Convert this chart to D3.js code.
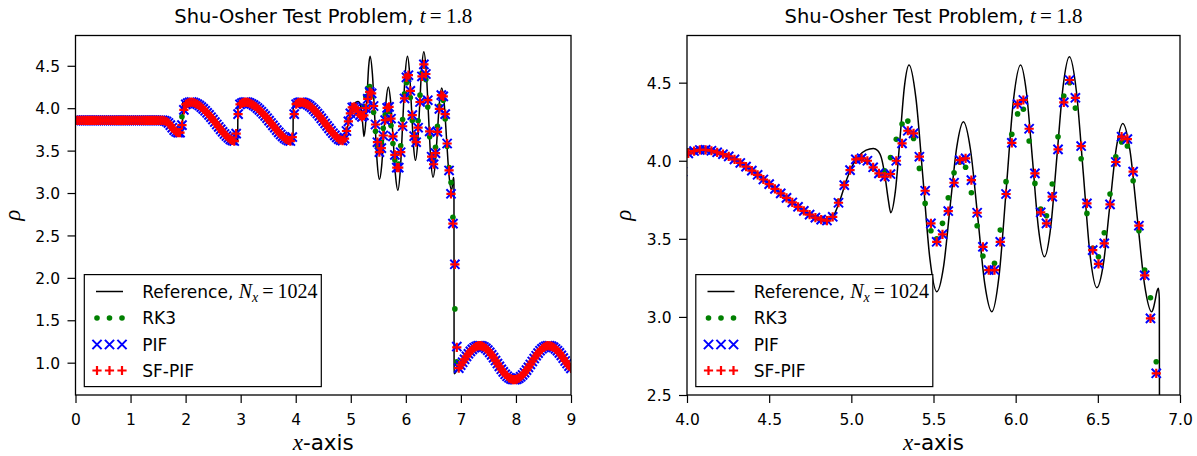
<!DOCTYPE html>
<html><head><meta charset="utf-8">
<script src="https://cdn.jsdelivr.net/npm/d3@7"></script>
<style>
body{margin:0;background:#fff}
svg{display:block}
text{font-family:"DejaVu Sans",sans-serif;fill:#000}
.math{font-family:"Liberation Serif","DejaVu Serif",serif}
</style>
</head><body><svg id="c" width="1197" height="456"></svg>
<script>
// ---------------- data ----------------
const gridCells = 256;          // mesh: x_i = i * 9/256, i = 0..256
const gridLength = 9;

const pifRho = [
3.857,3.857,3.857,3.857,3.857,3.857,3.857,3.857,3.857,3.857,
3.857,3.857,3.857,3.857,3.857,3.857,3.857,3.857,3.857,3.857,
3.857,3.857,3.857,3.857,3.857,3.857,3.857,3.857,3.857,3.857,
3.857,3.857,3.857,3.857,3.857,3.857,3.857,3.857,3.857,3.857,
3.857,3.857,3.857,3.857,
3.857,3.856,3.852,3.843,3.826,3.800,3.770,3.742,3.722,3.711,3.712,3.800,3.980,
4.045,4.060,4.068,4.071,4.067,4.058,4.046,4.031,4.013,3.992,3.970,3.946,3.921,3.894,3.866,3.837,3.808,3.779,3.750,3.722,3.696,3.672,3.651,3.633,3.620,3.613,
3.700,3.930,
4.045,4.060,4.068,4.071,4.068,4.060,4.049,4.036,4.020,4.001,3.980,3.958,3.934,3.909,3.882,3.854,3.826,3.798,3.770,3.742,3.715,3.690,3.667,3.647,3.631,3.619,3.613,
3.660,3.930,
4.047,4.062,4.069,4.070,4.064,4.054,4.042,4.028,4.009,3.986,3.962,3.937,3.910,3.880,3.850,3.820,3.791,3.762,3.733,3.705,3.679,3.655,3.636,3.623,3.617,
3.641,3.731,3.844,3.940,4.009,4.015,4.000,3.958,3.919,3.898,3.915,4.000,4.111,4.192,4.175,4.026,3.808,3.599,3.481,3.529,
3.678,3.859,4.004,4.015,3.876,3.667,3.449,3.300,3.300,3.481,3.787,4.115,4.363,4.389,4.205,3.919,3.670,3.599,3.770,4.073,
4.374,4.517,4.403,4.094,3.727,3.428,3.339,3.471,3.721,3.992,4.154,4.139,3.930,3.584,3.266,2.991,2.639,
2.160,1.190,0.936,0.970,1.005,1.040,1.074,1.105,1.133,1.157,1.176,1.190,1.198,1.200,1.195,1.185,1.169,1.148,1.122,1.092,
1.059,1.025,0.990,0.956,0.922,0.891,0.863,0.840,0.822,0.808,0.801,0.800,0.806,0.817,0.834,0.855,0.882,0.912,0.945,0.979,
1.014,1.049,1.082,1.112,1.141,1.164,1.181,1.194,1.200,1.199,1.193,1.180,1.162,1.141,1.115,1.086,1.054,1.020,0.990,0.960,0.932
];

const sfpifRho = [
3.857,3.857,3.857,3.857,3.857,3.857,3.857,3.857,3.857,3.857,
3.857,3.857,3.857,3.857,3.857,3.857,3.857,3.857,3.857,3.857,
3.857,3.857,3.857,3.857,3.857,3.857,3.857,3.857,3.857,3.857,
3.857,3.857,3.857,3.857,3.857,3.857,3.857,3.857,3.857,3.857,
3.857,3.857,3.857,3.857,
3.857,3.856,3.852,3.843,3.826,3.800,3.770,3.742,3.722,3.711,3.712,3.800,3.980,
4.045,4.060,4.068,4.071,4.067,4.058,4.046,4.031,4.013,3.992,3.970,3.946,3.921,3.894,3.866,3.837,3.808,3.779,3.750,3.722,3.696,3.672,3.651,3.633,3.620,3.613,
3.700,3.930,
4.045,4.060,4.068,4.071,4.068,4.060,4.049,4.036,4.020,4.001,3.980,3.958,3.934,3.909,3.882,3.854,3.826,3.798,3.770,3.742,3.715,3.690,3.667,3.647,3.631,3.619,3.613,
3.660,3.930,
4.047,4.062,4.069,4.070,4.064,4.054,4.042,4.028,4.009,3.986,3.962,3.937,3.910,3.880,3.850,3.820,3.791,3.762,3.733,3.705,3.679,3.655,3.636,3.623,3.617,
3.641,3.731,3.844,3.940,4.009,4.015,4.000,3.958,3.919,3.898,3.915,4.000,4.111,4.192,4.175,4.026,3.808,3.599,3.481,3.529,
3.678,3.859,4.004,4.015,3.876,3.667,3.449,3.300,3.300,3.481,3.787,4.115,4.363,4.389,4.205,3.919,3.670,3.599,3.770,4.073,
4.374,4.517,4.403,4.094,3.727,3.428,3.339,3.471,3.721,3.992,4.154,4.139,3.930,3.584,3.266,2.991,2.639,
2.160,1.180,0.936,0.970,1.005,1.040,1.074,1.105,1.133,1.157,1.176,1.190,1.198,1.200,1.195,1.185,1.169,1.148,1.122,1.092,
1.059,1.025,0.990,0.956,0.922,0.891,0.863,0.840,0.822,0.808,0.801,0.800,0.806,0.817,0.834,0.855,0.882,0.912,0.945,0.979,
1.014,1.049,1.082,1.112,1.141,1.164,1.181,1.194,1.200,1.199,1.193,1.180,1.162,1.141,1.115,1.086,1.054,1.020,0.990,0.960,0.932
];

const rk3Rho = [
3.857,3.857,3.857,3.857,3.857,3.857,3.857,3.857,3.857,3.857,
3.857,3.857,3.857,3.857,3.857,3.857,3.857,3.857,3.857,3.857,
3.857,3.857,3.857,3.857,3.857,3.857,3.857,3.857,3.857,3.857,
3.857,3.857,3.857,3.857,3.857,3.857,3.857,3.857,3.857,3.857,
3.857,3.857,3.857,3.857,
3.857,3.856,3.852,3.843,3.826,3.800,3.770,3.742,3.722,3.711,3.712,3.900,3.990,
4.045,4.060,4.068,4.071,4.067,4.058,4.046,4.031,4.013,3.992,3.970,3.946,3.921,3.894,3.866,3.837,3.808,3.779,3.750,3.722,3.696,3.672,3.651,3.633,3.620,3.613,
3.700,3.930,
4.045,4.060,4.068,4.071,4.068,4.060,4.049,4.036,4.020,4.001,3.980,3.958,3.934,3.909,3.882,3.854,3.826,3.798,3.770,3.742,3.715,3.690,3.667,3.647,3.631,3.619,3.613,
3.660,3.930,
4.047,4.062,4.069,4.070,4.064,4.054,4.042,4.028,4.009,3.986,3.962,3.937,3.910,3.880,3.850,3.820,3.791,3.762,3.733,3.705,3.679,3.655,3.636,3.623,3.617,
3.645,3.740,3.850,3.945,4.010,4.015,3.995,3.950,3.915,3.935,4.020,4.137,4.235,4.254,4.143,3.951,3.727,3.552,3.500,3.599,
3.763,3.923,3.990,3.958,3.795,3.584,3.390,3.300,3.343,3.556,3.866,4.169,4.300,4.330,4.126,3.855,3.690,3.648,3.851,4.154,
4.414,4.500,4.337,4.013,3.663,3.440,3.385,3.539,3.787,4.026,4.120,4.094,3.872,3.552,3.300,3.123,2.713,
1.634,1.010,0.936,0.970,1.005,1.040,1.074,1.105,1.133,1.157,1.176,1.190,1.198,1.200,1.195,1.185,1.169,1.148,1.122,1.092,
1.059,1.025,0.990,0.956,0.922,0.891,0.863,0.840,0.822,0.808,0.801,0.800,0.806,0.817,0.834,0.855,0.882,0.912,0.945,0.979,
1.014,1.049,1.082,1.112,1.141,1.164,1.181,1.194,1.200,1.199,1.193,1.180,1.162,1.141,1.115,1.086,1.054,1.020,0.990,0.960,0.932
];

// Reference solution (N_x = 1024)
const refX = [
0.000,1.550,1.620,1.700,1.780,1.850,1.900,1.944,
1.948,2.000,2.080,2.200,2.300,2.400,2.500,2.600,2.700,2.800,2.880,2.946,
2.950,3.000,3.080,3.200,3.300,3.400,3.500,3.600,3.700,3.800,3.880,3.951,
3.955,4.000,4.080,4.200,4.300,4.400,4.500,4.600,4.700,4.780,4.852,
4.890,4.930,4.970,5.010,5.050,5.090,5.134,5.160,5.185,5.205,5.225,5.240,
5.268,5.296,5.323,5.351,5.393,5.436,5.478,5.520,5.561,5.601,5.642,5.682,
5.725,5.769,5.812,5.855,5.899,5.943,5.986,6.030,6.066,6.103,6.139,6.175,
6.213,6.251,6.289,6.327,6.369,6.411,6.452,6.494,6.534,6.573,6.613,6.652,
6.696,6.740,6.784,6.828,6.838,6.849,6.859,6.869,6.874,6.877,
6.950,7.050,7.150,7.250,7.340,7.450,7.550,7.650,7.750,7.850,7.970,
8.100,8.200,8.300,8.400,8.500,8.600,8.700,8.800,8.900,9.000
];
const refRho = [
3.857,3.857,3.853,3.835,3.780,3.722,3.706,3.705,
4.065,4.078,4.076,4.055,4.020,3.965,3.895,3.820,3.740,3.665,3.622,3.607,
4.065,4.078,4.076,4.055,4.020,3.965,3.895,3.820,3.740,3.665,3.622,3.607,
4.065,4.076,4.076,4.056,4.012,3.943,3.858,3.770,3.690,3.640,3.615,
3.645,3.745,3.875,3.975,4.035,4.068,4.079,4.065,4.010,3.900,3.750,3.667,
3.805,4.140,4.475,4.613,4.401,3.887,3.373,3.161,3.320,3.706,4.091,4.250,
4.072,3.642,3.211,3.033,3.264,3.823,4.382,4.613,4.434,3.999,3.564,3.385,
3.572,4.026,4.479,4.666,4.450,3.927,3.403,3.187,3.341,3.713,4.085,4.239,
4.063,3.636,3.209,3.033,3.055,3.108,3.161,3.183,3.120,0.870,
0.925,1.024,1.120,1.180,1.200,1.170,1.100,1.005,0.910,0.835,0.800,
0.835,0.910,1.005,1.100,1.170,1.200,1.170,1.100,1.010,0.930
];

const leftXTicks = [0,1,2,3,4,5,6,7,8,9];
const leftYTicks = [1.0,1.5,2.0,2.5,3.0,3.5,4.0,4.5];
const rightXTicks = [4.0,4.5,5.0,5.5,6.0,6.5,7.0];
const rightYTicks = [2.5,3.0,3.5,4.0,4.5];
const seriesNames = ["RK3","PIF","SF-PIF"];
const titleText = "Shu-Osher Test Problem, ";

// ---------------- drawing ----------------
const svg = d3.select("#c");
const xs = d3.range(gridCells + 1).map(i => i * gridLength / gridCells);
const refPts = refX.map((x, i) => [x, refRho[i]]);

const panels = [
  {id:"L", x0:75.5, x1:571, y0:35.5, y1:395, xDomain:[0,9], yDomain:[0.619,4.857],
   xTicks:leftXTicks, yTicks:leftYTicks, xFmt:d3.format("d"), yFmt:d3.format(".1f"), ylabX:15},
  {id:"R", x0:687, x1:1180, y0:35.5, y1:395, xDomain:[4,7], yDomain:[2.5,4.802],
   xTicks:rightXTicks, yTicks:rightYTicks, xFmt:d3.format(".1f"), yFmt:d3.format(".1f"), ylabX:626}
];

const MS = 4.6; // marker half size
const plusPath = `M${-MS},0H${MS}M0,${-MS}V${MS}`;
const timesPath = `M${-MS},${-MS}L${MS},${MS}M${-MS},${MS}L${MS},${-MS}`;

panels.forEach(p => {
  const x = d3.scaleLinear().domain(p.xDomain).range([p.x0, p.x1]);
  const y = d3.scaleLinear().domain(p.yDomain).range([p.y1, p.y0]);
  const g = svg.append("g");

  g.append("clipPath").attr("id", "clip" + p.id)
    .append("rect").attr("x", p.x0).attr("y", p.y0)
    .attr("width", p.x1 - p.x0).attr("height", p.y1 - p.y0);

  const plot = g.append("g").attr("clip-path", `url(#clip${p.id})`);

  const line = d3.line().x(d => x(d[0])).y(d => y(d[1])).curve(d3.curveMonotoneX);
  plot.append("path").datum(refPts).attr("d", line)
    .attr("fill", "none").attr("stroke", "#000").attr("stroke-width", 1.5);

  const inView = i => xs[i] >= p.xDomain[0] - 0.05 && xs[i] <= p.xDomain[1] + 0.05;

  plot.append("g").selectAll("circle")
    .data(rk3Rho.map((v, i) => [xs[i], v, i]).filter(d => inView(d[2])))
    .join("circle").attr("cx", d => x(d[0])).attr("cy", d => y(d[1]))
    .attr("r", 2.8).attr("fill", "#008000");

  plot.append("g").selectAll("path")
    .data(pifRho.map((v, i) => [xs[i], v, i]).filter(d => inView(d[2])))
    .join("path").attr("d", timesPath)
    .attr("transform", d => `translate(${x(d[0])},${y(d[1])})`)
    .attr("stroke", "#0000ff").attr("stroke-width", 2).attr("fill", "none");

  plot.append("g").selectAll("path")
    .data(sfpifRho.map((v, i) => [xs[i], v, i]).filter(d => inView(d[2])))
    .join("path").attr("d", plusPath)
    .attr("transform", d => `translate(${x(d[0])},${y(d[1])})`)
    .attr("stroke", "#ff0000").attr("stroke-width", 2.2).attr("fill", "none");

  // axes
  const xAxis = d3.axisBottom(x).tickValues(p.xTicks).tickFormat(p.xFmt).tickSize(8).tickSizeOuter(0);
  const gx = g.append("g").attr("transform", `translate(0,${p.y1})`).call(xAxis);
  gx.select(".domain").remove();
  gx.selectAll(".tick line").attr("stroke", "#000").attr("stroke-width", 1.2);
  gx.selectAll(".tick text").attr("y", 30).attr("dy", 0)
    .style("font-size", "15.5px").style("font-family", "'DejaVu Sans'").attr("fill", "#000");

  const yAxis = d3.axisLeft(y).tickValues(p.yTicks).tickFormat(p.yFmt).tickSize(8).tickSizeOuter(0);
  const gy = g.append("g").attr("transform", `translate(${p.x0},0)`).call(yAxis);
  gy.select(".domain").remove();
  gy.selectAll(".tick line").attr("stroke", "#000").attr("stroke-width", 1.2);
  gy.selectAll(".tick text").attr("x", -15.5).attr("dy", "0.36em")
    .style("font-size", "15.5px").style("font-family", "'DejaVu Sans'").attr("fill", "#000");

  // frame
  g.append("rect").attr("x", p.x0).attr("y", p.y0)
    .attr("width", p.x1 - p.x0).attr("height", p.y1 - p.y0)
    .attr("fill", "none").attr("stroke", "#000").attr("stroke-width", 1.3);

  const cx = (p.x0 + p.x1) / 2;
  // title
  const t = g.append("text").attr("x", cx).attr("y", 23).attr("text-anchor", "middle")
    .style("font-size", "19.5px");
  t.append("tspan").text(titleText);
  t.append("tspan").attr("class", "math").style("font-style", "italic").style("font-size", "21px").text("t");
  t.append("tspan").attr("class", "math").style("font-size", "21px").text("\u2009=\u20091.8");

  // x label
  const xl = g.append("text").attr("x", cx).attr("y", 450).attr("text-anchor", "middle")
    .style("font-size", "21.5px");
  xl.append("tspan").attr("class", "math").style("font-style", "italic").style("font-size", "23px").text("x");
  xl.append("tspan").text("-axis");

  // y label
  g.append("text").attr("class", "math")
    .attr("transform", `translate(${p.ylabX},${(p.y0 + p.y1) / 2}) rotate(-90)`)
    .attr("text-anchor", "middle").attr("dy", "0.2em")
    .style("font-style", "italic").style("font-size", "23px").text("\u03c1");

  // legend
  const lx = p.x0 + 8.8, ly = 274.6, lw = 237, lh = 112;
  const lg = g.append("g");
  lg.append("rect").attr("x", lx).attr("y", ly).attr("width", lw).attr("height", lh)
    .attr("fill", "#fff").attr("stroke", "#000").attr("stroke-width", 1.2);
  const rowY = [291.5, 318, 344.5, 370.5];
  const hx0 = p.x0 + 20.5, hx1 = p.x0 + 47.5, hxs = [hx0 + 1, (hx0 + hx1) / 2, hx1 - 1];
  lg.append("line").attr("x1", hx0).attr("x2", hx1).attr("y1", rowY[0]).attr("y2", rowY[0])
    .attr("stroke", "#000").attr("stroke-width", 1.5);
  lg.selectAll("circle.h").data(hxs).join("circle").attr("cx", d => d).attr("cy", rowY[1])
    .attr("r", 2.8).attr("fill", "#008000");
  lg.selectAll("path.hx").data(hxs).join("path").attr("d", timesPath)
    .attr("transform", d => `translate(${d},${rowY[2]})`)
    .attr("stroke", "#0000ff").attr("stroke-width", 2).attr("fill", "none");
  lg.selectAll("path.hp").data(hxs).join("path").attr("class", "hp").attr("d", plusPath)
    .attr("transform", d => `translate(${d},${rowY[3]})`)
    .attr("stroke", "#ff0000").attr("stroke-width", 2.2).attr("fill", "none");
  const tx = p.x0 + 66.8;
  const r0 = lg.append("text").attr("x", tx).attr("y", rowY[0] + 6.2).style("font-size", "17px");
  r0.append("tspan").text("Reference, ");
  r0.append("tspan").attr("class", "math").style("font-style", "italic").style("font-size", "20px").text("N");
  r0.append("tspan").attr("class", "math").style("font-style", "italic").style("font-size", "14px").attr("dy", 4).text("x");
  r0.append("tspan").attr("class", "math").style("font-size", "20px").attr("dy", -4).text("\u2009=\u20091024");
  seriesNames.forEach((n, k) => {
    lg.append("text").attr("x", tx).attr("y", rowY[k + 1] + 6.2).style("font-size", "17px").text(n);
  });
});
</script>
</body></html>
